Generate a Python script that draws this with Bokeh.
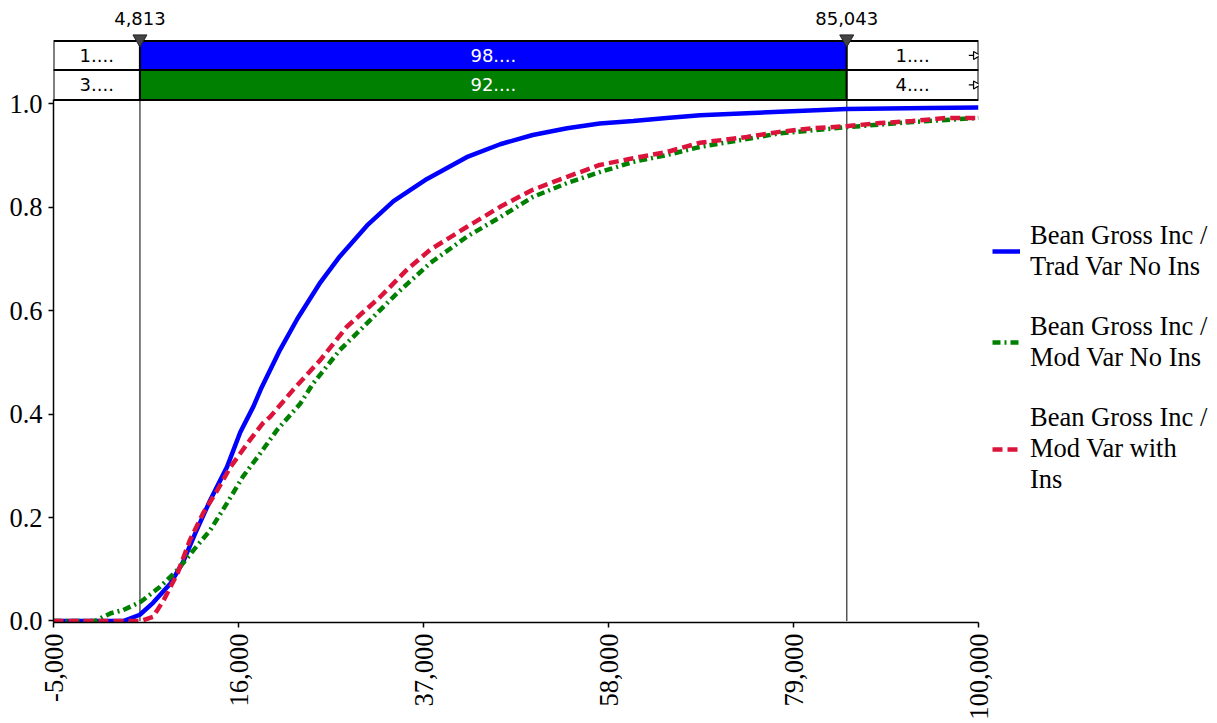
import math
from bokeh.plotting import figure
from bokeh.models import (ColumnDataSource, FixedTicker, NumeralTickFormatter,
                          Legend, LegendItem, Range1d)
from bokeh.core.properties import value
from bokeh.embed import file_html
from bokeh.resources import INLINE

# ---------------- data ----------------
x_ticks = [-5000, 16000, 37000, 58000, 79000, 100000]
y_ticks = [0.0, 0.2, 0.4, 0.6, 0.8, 1.0]

trad_x = [-5000, 3000, 4800, 6300, 8300, 9700, 11100, 12800, 14700, 16200, 17700, 18500,
          20700, 22700, 25300, 27500, 30600, 33600, 37400, 41900, 45700, 49400, 53300,
          57000, 60800, 64600, 68400, 77400, 85000, 94400, 100000]
trad_y = [0, 0, 0.012, 0.035, 0.073, 0.114, 0.17, 0.234, 0.298, 0.365, 0.415, 0.447,
          0.524, 0.585, 0.655, 0.705, 0.765, 0.812, 0.855, 0.897, 0.922, 0.94, 0.953,
          0.962, 0.967, 0.973, 0.978, 0.985, 0.99, 0.992, 0.993]

mod_x = [-5000, -300, 1500, 2900, 4900, 7100, 9100, 10900, 12800, 14700, 16500, 18500,
         20400, 23000, 24500, 27500, 30600, 34000, 37750, 41900, 45700, 49400, 53300,
         57000, 60800, 64600, 68400, 77400, 85000, 92500, 100000]
mod_y = [0, 0, 0.015, 0.021, 0.037, 0.066, 0.099, 0.137, 0.176, 0.228, 0.279, 0.325,
         0.37, 0.42, 0.46, 0.524, 0.576, 0.634, 0.692, 0.743, 0.781, 0.82, 0.847,
         0.868, 0.888, 0.901, 0.917, 0.943, 0.955, 0.965, 0.973]

ins_x = [-5000, 4900, 6300, 7500, 9100, 10500, 12000, 13600, 15100, 17300, 18800, 19600,
         22200, 25300, 28300, 32100, 35100, 37750, 41900, 45700, 49400, 53300, 57000,
         60800, 64600, 68400, 73700, 77400, 81200, 85000, 88800, 92500, 96400, 100000]
ins_y = [0, 0, 0.008, 0.04, 0.093, 0.157, 0.209, 0.253, 0.298, 0.35, 0.383, 0.395,
         0.447, 0.505, 0.569, 0.627, 0.679, 0.718, 0.762, 0.801, 0.834, 0.859, 0.882,
         0.895, 0.907, 0.925, 0.936, 0.946, 0.953, 0.957, 0.963, 0.967, 0.973, 0.973]

series_names = ["Bean Gross Inc /\nTrad Var No Ins",
                "Bean Gross Inc /\nMod Var No Ins",
                "Bean Gross Inc /\nMod Var with\nIns"]

marker_values = [4813, 85043]
marker_labels = ["4,813", "85,043"]
left_labels = ["1....", "3...."]
mid_labels = ["98....", "92...."]
right_labels = ["1....", "4...."]
mid_colors = ["#0000FF", "#008000"]

# ---------------- layout constants ----------------
X0, X1 = -5000, 100000
Y0 = -0.003
PX_PER_UNIT = 517.0
TOP = 8                      # canvas offset of frame top
FRAME_H = 622 - TOP
Y1 = Y0 + FRAME_H / PX_PER_UNIT

def ypx(py):  # page pixel -> data y
    return (621 - py) / PX_PER_UNIT

row_tops = [ypx(41), ypx(70)]
row_bots = [ypx(70), ypx(100)]
row_mid = [(a + b) / 2 for a, b in zip(row_tops, row_bots)]

p = figure(frame_width=925, frame_height=FRAME_H,
           x_range=Range1d(X0, X1), y_range=Range1d(Y0, Y1),
           output_backend="svg", toolbar_location=None,
           min_border_left=53, min_border_top=TOP, min_border_right=236,
           min_border_bottom=0)
p.grid.visible = False
p.outline_line_color = None

# axes
p.xaxis.ticker = FixedTicker(ticks=x_ticks)
p.xaxis.formatter = NumeralTickFormatter(format="0,0")
p.xaxis.major_label_orientation = math.pi / 2
p.yaxis.ticker = FixedTicker(ticks=y_ticks)
p.yaxis.formatter = NumeralTickFormatter(format="0.0")
p.yaxis.bounds = (Y0, ypx(100))
for ax in (p.xaxis[0], p.yaxis[0]):
    ax.major_label_text_font = "Liberation Serif"
    ax.major_label_text_font_size = "26.5px"
    ax.major_label_text_color = "black"
    ax.axis_line_color = "black"
    ax.axis_line_width = 1.5
    ax.major_tick_line_color = "black"
    ax.major_tick_line_width = 1.5
    ax.major_tick_out = 5
    ax.major_tick_in = 0
    ax.minor_tick_line_color = None
p.xaxis.major_label_standoff = 6
p.yaxis.major_label_standoff = 6

# vertical marker lines
p.segment(x0=marker_values, y0=[0, 0], x1=marker_values, y1=[row_tops[0]] * 2,
          line_color="#555555", line_width=1.5)

# curves
r1 = p.line(trad_x, trad_y, line_color="#0000FF", line_width=4.5)
r2 = p.line(mod_x, mod_y, line_color="#008000", line_width=4.5, line_dash="8 4 2 4")
r3 = p.line(ins_x, ins_y, line_color="#DC143C", line_width=4.5, line_dash="10 5")

# top bar
left_src = ColumnDataSource(dict(l=[X0] * 2, r=[marker_values[0]] * 2, t=row_tops, b=row_bots))
mid_src = ColumnDataSource(dict(l=[marker_values[0]] * 2, r=[marker_values[1]] * 2,
                                t=row_tops, b=row_bots, c=mid_colors))
right_src = ColumnDataSource(dict(l=[marker_values[1]] * 2, r=[X1] * 2, t=row_tops, b=row_bots))
p.quad(left="l", right="r", top="t", bottom="b", source=left_src,
       fill_color="white", line_color="black", line_width=2)
p.quad(left="l", right="r", top="t", bottom="b", source=mid_src,
       fill_color="c", line_color="black", line_width=2)
p.quad(left="l", right="r", top="t", bottom="b", source=right_src,
       fill_color="white", line_color="black", line_width=2)

txt = dict(text_font=value("DejaVu Sans"), text_font_size="18px",
           text_align="center", text_baseline="middle")
p.text(x=[(X0 + marker_values[0]) / 2] * 2, y=row_mid, text=left_labels,
       text_color="black", **txt)
p.text(x=[(marker_values[0] + marker_values[1]) / 2] * 2, y=row_mid, text=mid_labels,
       text_color="white", **txt)
p.text(x=[(marker_values[1] + X1) / 2] * 2, y=row_mid, text=right_labels,
       text_color="black", **txt)

# small arrows at right end of rows
p.segment(x0=[98900] * 2, y0=row_mid, x1=[99500] * 2, y1=row_mid,
          line_color="black", line_width=1.2)
p.scatter(x=[99700] * 2, y=row_mid, marker="triangle", angle=-math.pi / 2, size=8,
          fill_color="white", line_color="black", line_width=1.2)

# marker triangles and labels
p.scatter(x=marker_values, y=[ypx(39)] * 2, marker="inverted_triangle", size=14,
          fill_color="#444444", line_color="#222222")
p.text(x=marker_values, y=[ypx(19)] * 2, text=marker_labels, text_color="black", **txt)

legend = Legend(items=[LegendItem(label=series_names[0], renderers=[r1]),
                       LegendItem(label=series_names[1], renderers=[r2]),
                       LegendItem(label=series_names[2], renderers=[r3])],
                location=(14, 127), glyph_width=28, label_standoff=10, spacing=29,
                padding=0, margin=0, border_line_color=None, background_fill_alpha=0,
                label_text_font="Liberation Serif", label_text_font_size="26.5px",
                label_text_line_height=1.12, label_text_color="black")
p.add_layout(legend, "right")

open("out.html", "w").write(file_html(p, INLINE))
